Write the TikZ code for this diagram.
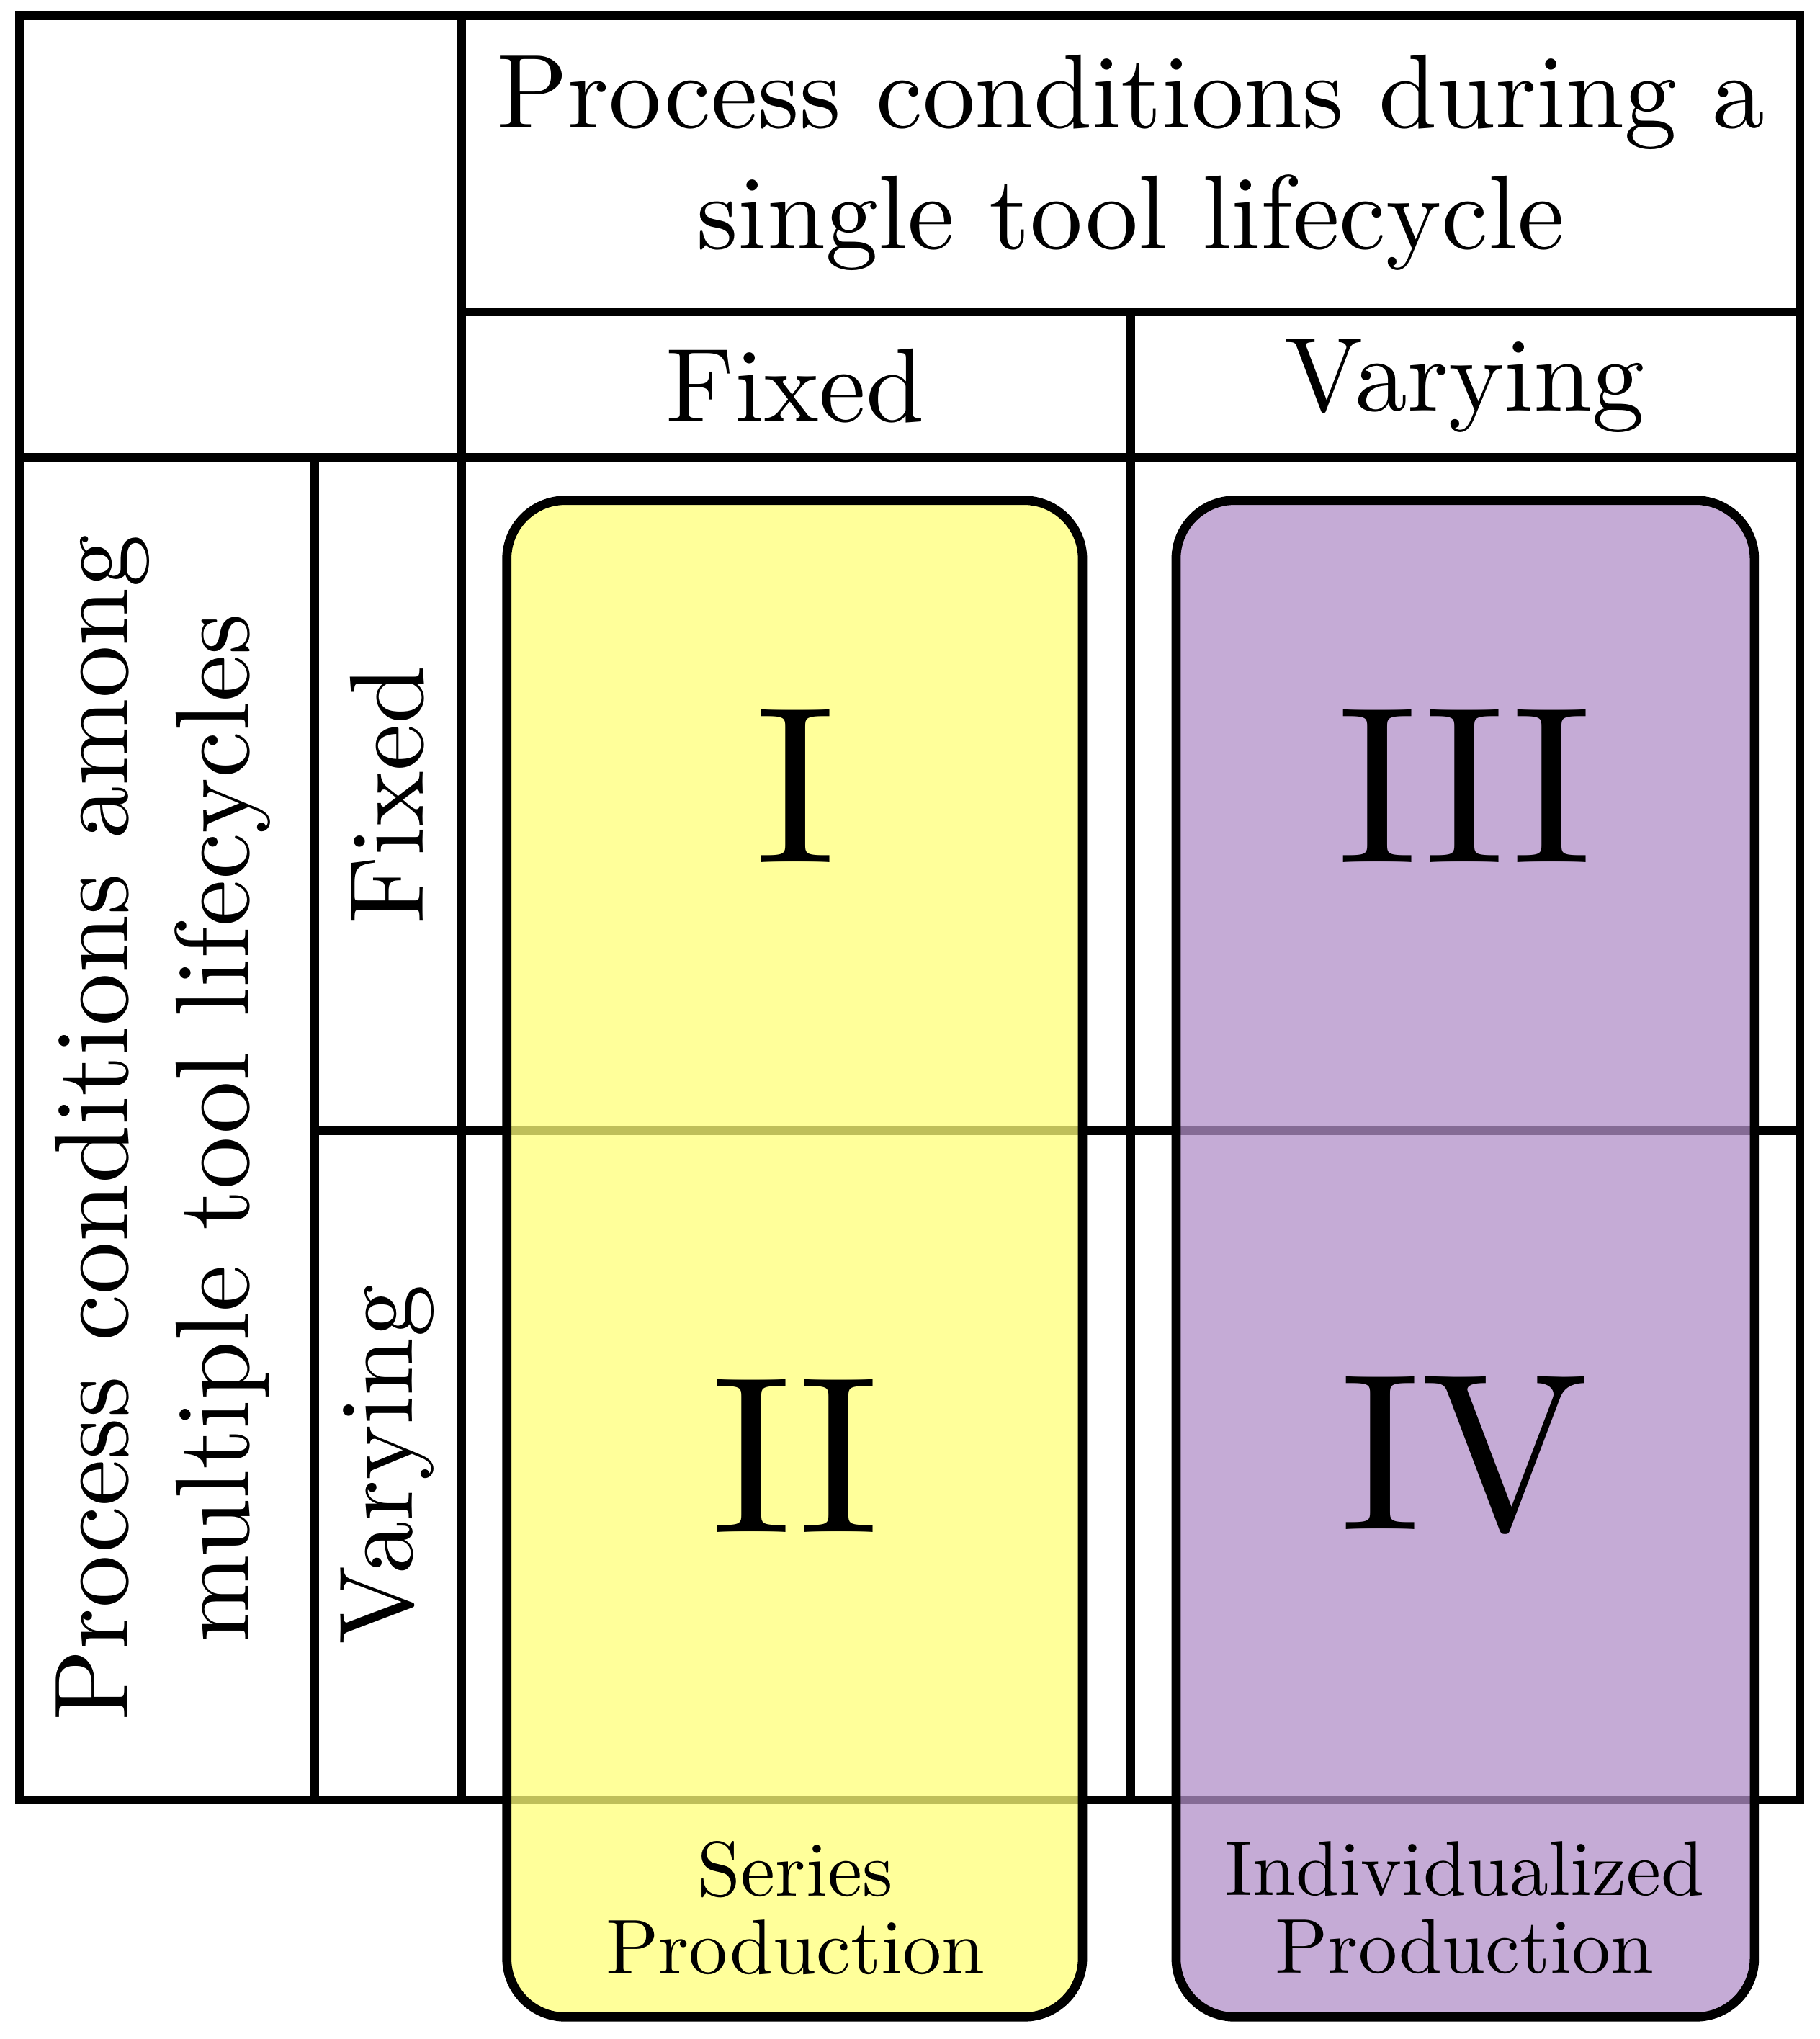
\documentclass[tikz,border=0pt]{standalone}
\begin{document}
\begin{tikzpicture}[x=0.01cm,y=-0.01cm,
  grid/.style={line width=2pt,line cap=rect},
  big/.style={font=\fontsize{10}{11.5}\selectfont,align=center,scale=2.3},
  num/.style={font=\fontsize{10}{11}\selectfont,scale=4.9},
  small/.style={font=\fontsize{10}{10}\selectfont,align=center,scale=1.7},
  pill/.style={line width=2pt,rounded corners=0.45cm,fill opacity=0.75}]
\useasboundingbox (0,0) rectangle (1400,1569);
\definecolor{yel}{rgb}{1,1,0.47}
\definecolor{pur}{rgb}{0.697,0.561,0.785}
\draw[grid] (15,12) rectangle (1385,1385);
\draw[grid] (355,12) -- (355,1385);
\draw[grid] (15,352) -- (1385,352);
\draw[grid] (355,240) -- (1385,240);
\draw[grid] (870,240) -- (870,1385);
\draw[grid] (242,352) -- (242,1385);
\draw[grid] (242,870) -- (1385,870);
\draw[pill,fill=yel] (390,385) rectangle (833,1552);
\draw[pill,fill=pur] (905,385) rectangle (1350,1552);
\node[big] (hdr) at (870,125) {Process conditions during a\\single tool lifecycle};
\node[big] (cf) at (612,297) {Fixed};
\node[big] (cv) at (1127,297) {Varying};
\node[big,rotate=90] (lab) at (125,868) {Process conditions among\\multiple tool lifecycles};
\node[big,rotate=90] (rf) at (298,612) {Fixed};
\node[big,rotate=90] (rv) at (298,1127) {Varying};
\node[num] (q1) at (612,605) {I};
\node[num] (q2) at (612,1120) {II};
\node[num] (q3) at (1127,605) {III};
\node[num] (q4) at (1127,1120) {IV};
\node[small] (sp) at (612,1468) {Series\\Production};
\node[small] (ip) at (1127,1468) {Individualized\\Production};
\end{tikzpicture}
\end{document}
